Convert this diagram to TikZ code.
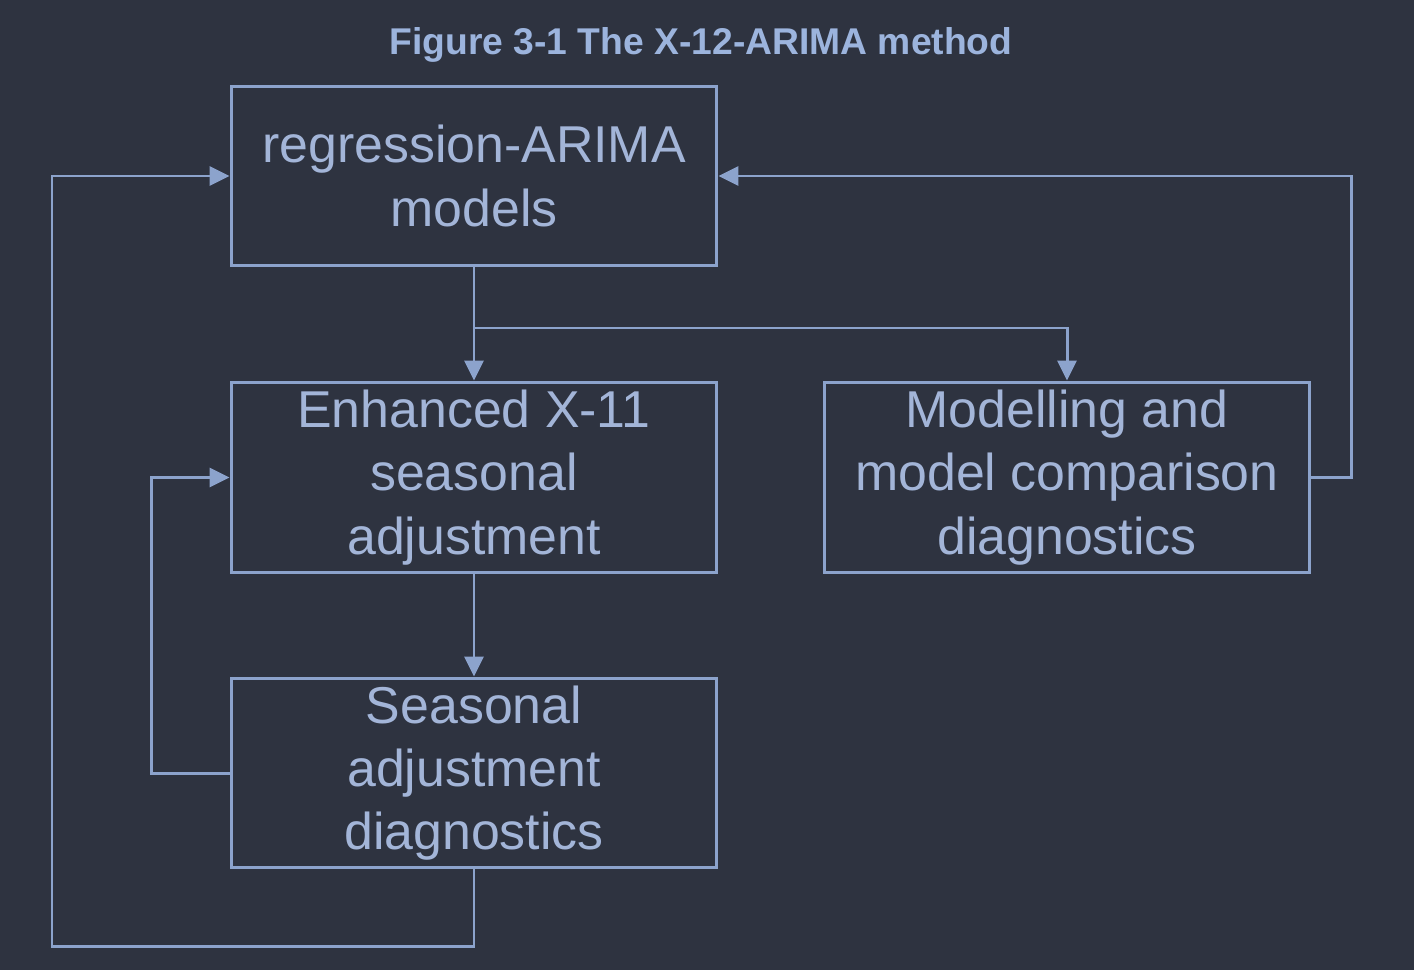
\documentclass[tikz,border=0pt]{standalone}
\usepackage{fontspec}
\setmainfont{Liberation Sans}
\usetikzlibrary{arrows.meta}
\definecolor{bgdark}{HTML}{2E3340}
\definecolor{edgeblue}{HTML}{8CA3CC}
\definecolor{textblue}{HTML}{A3B5D8}
\definecolor{titleblue}{HTML}{9CB4DD}
\tikzstyle{box}=[rectangle, draw=edgeblue, line width=1.7pt, text=textblue, inner sep=0pt, minimum width=9.72cm, align=center, font=\fontsize{29.5}{36}\selectfont, anchor=center]
\tikzstyle{link}=[draw=edgeblue, line width=1.7pt, -{Triangle[length=0.4cm,width=0.38cm]}]
\tikzstyle{annot}=[align=center, text=titleblue, font=\fontsize{21.2}{26}\selectfont\bfseries]

\begin{document}
\begin{tikzpicture}[x=0.02cm, y=-0.02cm]
	\fill[bgdark] (0,0) rectangle (1414,970);
	\useasboundingbox (0,0) rectangle (1414,970);

	\node[annot] (title) at (701,45) {Figure 3-1 The X-12-ARIMA method};

	\node[box, minimum height=3.6cm] (reg) at (474,176) {regression-ARIMA\\models};
	\node[box, minimum height=3.82cm] (enh) at (474,477.5) {Enhanced X-11\\seasonal\\adjustment};
	\node[box, minimum height=3.8cm] (sadiag) at (474,773) {Seasonal\\adjustment\\diagnostics};
	\node[box, minimum height=3.82cm] (moddiag) at (1067,477.5) {Modelling and\\model comparison\\diagnostics};

	\coordinate (split) at (474,328);
	\coordinate (loopbl) at (52,946);

	\draw[link] (reg.south) -- (enh.north);
	\draw[link] (split) -| (moddiag.north);
	\draw[link] (moddiag.east) -- ++(40,0) |- (reg.east);
	\draw[link] (enh.south) -- (sadiag.north);
	\draw[link] (sadiag.west) -- ++(-78,0) |- (enh.west);
	\draw[link] (sadiag.south) |- (loopbl) |- (reg.west);

\end{tikzpicture}
\end{document}
